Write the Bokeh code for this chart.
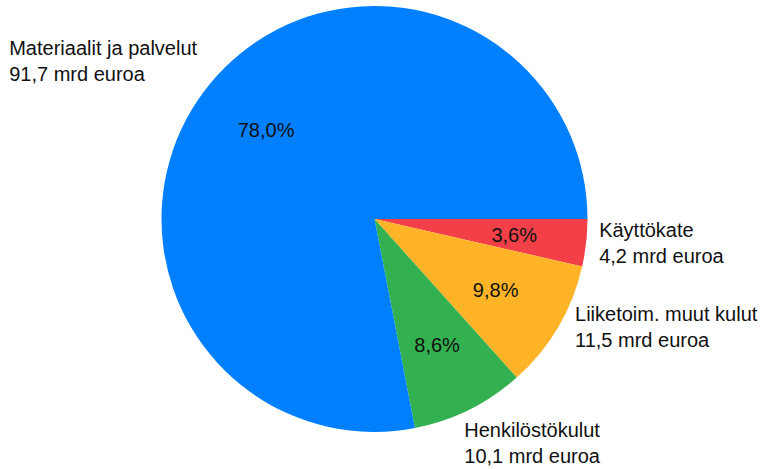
import math
from bokeh.plotting import figure
from bokeh.models import Range1d, ColumnDataSource
from bokeh.core.properties import value
from bokeh.embed import file_html
from bokeh.resources import INLINE

# ---- data ----
categories = ["Käyttökate", "Liiketoim. muut kulut", "Henkilöstökulut", "Materiaalit ja palvelut"]
amounts = [4.2, 11.5, 10.1, 91.7]          # mrd euroa
amount_labels = ["4,2", "11,5", "10,1", "91,7"]
colors = ["#F23F48", "#FFB428", "#33B050", "#0080FF"]

# ---- style / layout ----
W, H = 768, 469
CX, CY, R = 374, 250.5, 213
FONT = "Liberation Sans"
FS = "20px"
# per-label outer text placement: (align, baseline, x_offset, y_offset)
outer_style = [
    ("left", "middle", 13, 0),
    ("left", "middle", 17, 0),
    ("left", "top", -5, 9),
    ("left", "bottom", -201, 2),
]

total = sum(amounts)
shares = [a / total for a in amounts]
starts, ends, mids = [], [], []
cum = 0.0
for s in shares:
    starts.append(-cum * 2 * math.pi)
    mids.append(-(cum + s / 2) * 2 * math.pi)
    cum += s
    ends.append(-cum * 2 * math.pi)

pct_text = [f"{s*100:.1f}".replace(".", ",") + "%" for s in shares]

p = figure(width=W, height=H, x_range=Range1d(0, W), y_range=Range1d(0, H),
           output_backend="svg", toolbar_location=None, min_border=0)
p.axis.visible = False
p.grid.visible = False
p.outline_line_color = None
p.background_fill_color = "white"
p.border_fill_color = "white"

src = ColumnDataSource(dict(start=starts, end=ends, color=colors))
p.wedge(x=CX, y=CY, radius=R, start_angle="start", end_angle="end",
        direction="clock", fill_color="color", line_color=None, source=src)

# percentage labels inside slices
px = [CX + 0.66 * R * math.cos(m) for m in mids]
py = [CY + 0.66 * R * math.sin(m) for m in mids]
p.text(x=px, y=py, text=pct_text, text_align="center", text_baseline="middle",
       text_font=value(FONT), text_font_size=FS, text_color="#111111")

# outer labels
for i, cat in enumerate(categories):
    ex = CX + R * math.cos(mids[i])
    ey = CY + R * math.sin(mids[i])
    al, bl, dx, dy = outer_style[i]
    p.text(x=[ex], y=[ey], text=[f"{cat}\n{amount_labels[i]} mrd euroa"],
           text_align=al, text_baseline=bl, x_offset=dx, y_offset=dy,
           text_font=value(FONT), text_font_size=FS, text_color="#111111",
           text_line_height=1.2)

open("out.html", "w").write(file_html(p, INLINE))
